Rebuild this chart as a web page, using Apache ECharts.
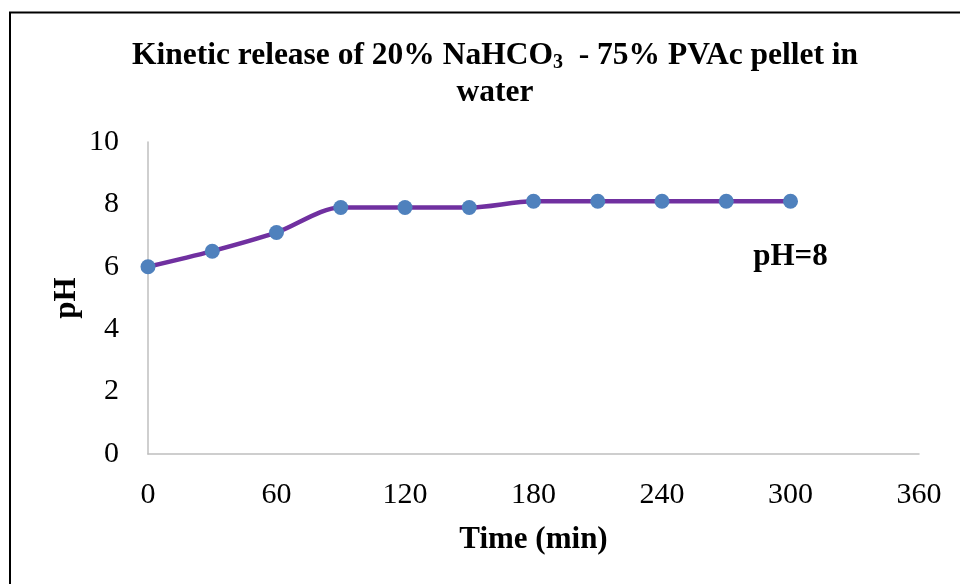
<!DOCTYPE html>
<html>
<head>
<meta charset="utf-8">
<script src="https://cdn.jsdelivr.net/npm/echarts@6/dist/echarts.min.js"></script>
<style>html,body{margin:0;padding:0;background:#fff;}#c{width:960px;height:584px;}</style>
</head>
<body>
<div id="c"></div>
<script>
const timeMin = [0, 30, 60, 90, 120, 150, 180, 210, 240, 270, 300];
const phValues = [6.0, 6.5, 7.1, 7.9, 7.9, 7.9, 8.1, 8.1, 8.1, 8.1, 8.1];
const xTicks = [0, 60, 120, 180, 240, 300, 360];
const yTicks = [0, 2, 4, 6, 8, 10];
const annotation = { text: 'pH=8', x: 300, y: 6.3 };

const serif = '"Liberation Serif", "Times New Roman", serif';
const chart = echarts.init(document.getElementById('c'));
chart.setOption({
  backgroundColor: '#fff',
  animation: false,
  title: {
    text: '{t|Kinetic release of 20% NaHCO}{s|3}{t|  - 75% PVAc pellet in}\n{t|water}',
    left: 490, top: 32, textAlign: 'center',
    textStyle: {
      rich: {
        t: { fontFamily: serif, fontWeight: 'bold', fontSize: 31.5, color: '#000', lineHeight: 37 },
        s: { fontFamily: serif, fontWeight: 'bold', fontSize: 20, color: '#000', lineHeight: 37, padding: [15, 0, 0, 0] }
      }
    }
  },
  graphic: [{
    type: 'rect', shape: { x: 10, y: 12.5, width: 1000, height: 1000 },
    style: { fill: 'none', stroke: '#000', lineWidth: 2 }, silent: true
  }],
  grid: { left: 148, right: 41, top: 142, bottom: 130, containLabel: false },
  xAxis: {
    type: 'value', min: xTicks[0], max: xTicks[xTicks.length - 1], interval: 60,
    name: 'Time (min)', nameLocation: 'middle', nameGap: 70, nameMoveOverlap: false,
    nameTextStyle: { fontFamily: serif, fontWeight: 'bold', fontSize: 31, color: '#000' },
    axisLine: { show: true, lineStyle: { color: '#BFBFBF', width: 1.5 } },
    axisTick: { show: false },
    axisLabel: { fontFamily: serif, fontSize: 30, color: '#000', margin: 26 },
    splitLine: { show: false }
  },
  yAxis: {
    type: 'value', min: yTicks[0], max: yTicks[yTicks.length - 1], interval: 2,
    name: 'pH', nameLocation: 'middle', nameGap: 66, nameRotate: 90, nameMoveOverlap: false,
    nameTextStyle: { fontFamily: serif, fontWeight: 'bold', fontSize: 31, color: '#000' },
    axisLine: { show: true, lineStyle: { color: '#BFBFBF', width: 1.5 } },
    axisTick: { show: false },
    axisLabel: { fontFamily: serif, fontSize: 30, color: '#000', margin: 29 },
    splitLine: { show: false }
  },
  series: [{
    type: 'line',
    data: timeMin.map((t, i) => [t, phValues[i]]),
    smooth: 0.3,
    symbol: 'circle', symbolSize: 15,
    lineStyle: { color: '#7030A0', width: 4.5 },
    itemStyle: { color: '#4F81BD' },
    markPoint: {
      symbol: 'rect', symbolSize: 1,
      itemStyle: { color: 'rgba(0,0,0,0)' },
      label: { show: true, position: 'inside', formatter: annotation.text, fontFamily: serif, fontWeight: 'bold', fontSize: 31, color: '#000' },
      data: [{ coord: [annotation.x, annotation.y] }]
    }
  }]
});
</script>
</body>
</html>
